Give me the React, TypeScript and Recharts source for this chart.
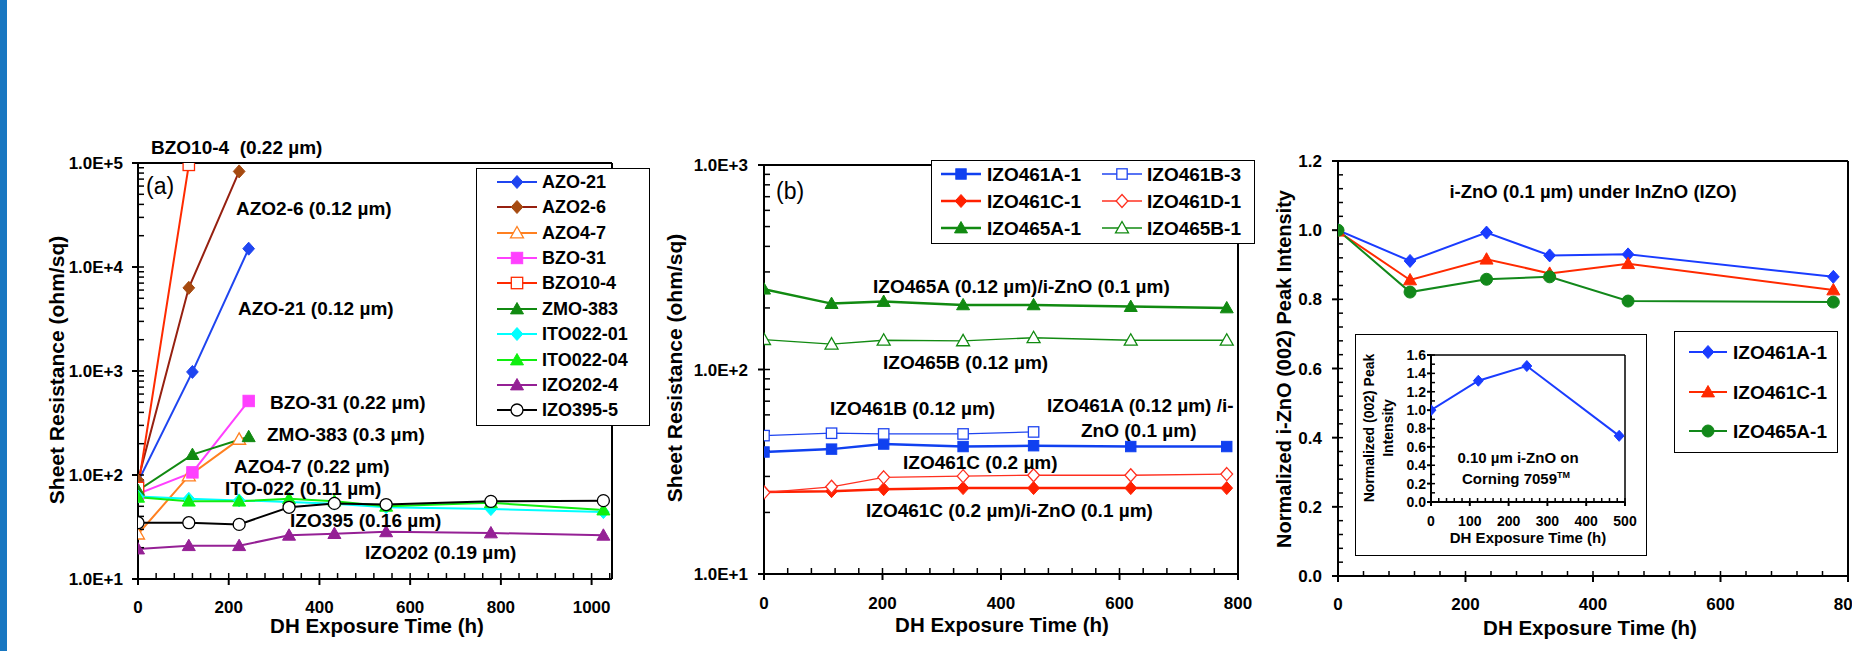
import React from "react";
import { LineChart, Line, XAxis, YAxis } from "recharts";

const FONT = "'Liberation Sans', Arial, Helvetica, sans-serif";
const NARROW = "'Liberation Sans Narrow', 'Arial Narrow', 'Liberation Sans', sans-serif";

// (a) sheet resistance of single TCO films vs damp-heat time
const hoursA1 = [0, 112, 223];
const hoursA2 = [0, 120, 244];
const hoursA = [0, 112, 223, 333, 433, 547, 778, 1026];

const azo21 = [86, 980, 15000];
const azo26 = [89, 6300, 83000];
const azo47 = [27, 98, 220];
const bzo31 = [66, 106, 515];
const bzo104 = [75, 96000, 700000];
const zmo383 = [71, 157, 233];
const ito02201 = [62, 59, 57, 55, 53, 49, 47, 44];
const ito02204 = [61, 56, 56, 59, 56, 50, 54, 46];
const izo2024 = [19.4, 20.9, 20.9, 26.3, 27.3, 28.4, 27.7, 26.3];
const izo3955 = [34.8, 34.8, 33.5, 48.9, 53.3, 52, 55.8, 56.7];

// (b) IZO with / without i-ZnO
const hoursB = [0, 114, 202, 336, 455, 619, 781];
const izo461a1 = [39.5, 40.8, 43.2, 42, 42.4, 42, 42];
const izo461b3 = [47.5, 48.8, 48.4, 48.4, 49.5];
const izo461c1 = [25.2, 25.4, 26.0, 26.3, 26.3, 26.3, 26.3];
const izo461d1 = [25, 26.7, 29.7, 30.1, 30.4, 30.4, 30.8];
const izo465a1 = [247, 210, 215, 207, 207, 203, 200];
const izo465b1 = [140, 133, 139, 138, 143, 139, 139];

// (c) normalized i-ZnO (002) peak intensity
const hoursC = [0, 113, 233, 332, 455, 777];
const peakA1 = [1.0, 0.911, 0.993, 0.927, 0.93, 0.865];
const peakC1 = [0.997, 0.856, 0.916, 0.875, 0.903, 0.827];
const peak465 = [1.0, 0.821, 0.858, 0.865, 0.795, 0.792];

// inset: i-ZnO on glass
const hoursInset = [0, 122, 247, 485];
const peakGlass = [1.0, 1.32, 1.48, 0.72];

const ticksAX = [0, 200, 400, 600, 800, 1000];
const ticksBX = [0, 200, 400, 600, 800];
const ticksLogA = [10, 100, 1000, 10000, 100000];
const ticksLogB = [10, 100, 1000];
const ticksC = [0, 0.2, 0.4, 0.6, 0.8, 1.0, 1.2];
const ticksInsetX = [0, 100, 200, 300, 400, 500];
const ticksInsetY = [0, 0.2, 0.4, 0.6, 0.8, 1.0, 1.2, 1.4, 1.6];

type Shape = "diamond" | "square" | "triangle" | "circle";
interface Series {
  name: string;
  xs: number[];
  ys: number[];
  color: string;
  line?: string;
  shape: Shape;
  filled: boolean;
  width?: number;
  r?: number;
}

const seriesA: Series[] = [
  { name: "AZO-21", xs: hoursA2, ys: azo21, color: "#1f45f0", shape: "diamond", filled: true },
  { name: "AZO2-6", xs: hoursA1, ys: azo26, color: "#a64a10", line: "#962010", shape: "diamond", filled: true },
  { name: "AZO4-7", xs: hoursA1, ys: azo47, color: "#ff8020", shape: "triangle", filled: false },
  { name: "BZO-31", xs: hoursA2, ys: bzo31, color: "#ff40ff", shape: "square", filled: true },
  { name: "BZO10-4", xs: hoursA1, ys: bzo104, color: "#ff2a00", shape: "square", filled: false },
  { name: "ZMO-383", xs: hoursA2, ys: zmo383, color: "#118a11", shape: "triangle", filled: true },
  { name: "ITO022-01", xs: hoursA, ys: ito02201, color: "#00ffff", shape: "diamond", filled: true },
  { name: "ITO022-04", xs: hoursA, ys: ito02204, color: "#10ee10", shape: "triangle", filled: true },
  { name: "IZO202-4", xs: hoursA, ys: izo2024, color: "#952095", shape: "triangle", filled: true },
  { name: "IZO395-5", xs: hoursA, ys: izo3955, color: "#000000", shape: "circle", filled: false },
];

const seriesB: Series[] = [
  { name: "IZO461A-1", xs: hoursB, ys: izo461a1, color: "#1040f0", shape: "square", filled: true, width: 2.5, r: 6 },
  { name: "IZO461B-3", xs: hoursB, ys: izo461b3, color: "#1f45f0", shape: "square", filled: false, width: 1.3, r: 6 },
  { name: "IZO461C-1", xs: hoursB, ys: izo461c1, color: "#ff2000", shape: "diamond", filled: true, width: 2.5 },
  { name: "IZO461D-1", xs: hoursB, ys: izo461d1, color: "#ff3020", shape: "diamond", filled: false, width: 1.3 },
  { name: "IZO465A-1", xs: hoursB, ys: izo465a1, color: "#118a11", shape: "triangle", filled: true, width: 2.5 },
  { name: "IZO465B-1", xs: hoursB, ys: izo465b1, color: "#118a11", shape: "triangle", filled: false, width: 1.3 },
];

const seriesC: Series[] = [
  { name: "IZO461A-1", xs: hoursC, ys: peakA1, color: "#1a3cff", shape: "diamond", filled: true },
  { name: "IZO461C-1", xs: hoursC, ys: peakC1, color: "#ff2a00", shape: "triangle", filled: true },
  { name: "IZO465A-1", xs: hoursC, ys: peak465, color: "#12881a", shape: "circle", filled: true },
];

const seriesInset: Series = { name: "glass", xs: hoursInset, ys: peakGlass, color: "#1a3cff", shape: "diamond", filled: true, r: 5.5 };

const pts = (xs: number[], ys: number[]) => ys.map((y, i) => ({ x: xs[i], y }));
const steps = (hi: number, step: number) =>
  Array.from({ length: Math.round(hi / step) + 1 }, (_, i) => +(i * step).toFixed(3));
const logTicks = (lo: number, hi: number) => {
  const out: number[] = [];
  for (let d = lo; d < hi; d *= 10) for (let k = 1; k <= 9; k++) out.push(d * k);
  out.push(hi);
  return out;
};
const sci = (v: number) => v.toExponential(1).toUpperCase();
const NoLabel = () => <g />;

function Marker({ shape, cx, cy, r = 6.5, color, filled }: { shape: Shape; cx: number; cy: number; r?: number; color: string; filled: boolean }) {
  const fill = filled ? color : "#fff";
  const sw = filled ? 1 : 1.3;
  if (shape === "circle") return <circle cx={cx} cy={cy} r={r - 0.5} fill={fill} stroke={color} strokeWidth={sw} />;
  if (shape === "square")
    return <rect x={cx - r + 0.8} y={cy - r + 0.8} width={2 * r - 1.6} height={2 * r - 1.6} fill={fill} stroke={color} strokeWidth={sw} />;
  if (shape === "diamond")
    return <path d={`M${cx},${cy - r}L${cx + r * 0.9},${cy}L${cx},${cy + r}L${cx - r * 0.9},${cy}Z`} fill={fill} stroke={color} strokeWidth={sw} />;
  return <path d={`M${cx},${cy - r}L${cx + r},${cy + r * 0.75}L${cx - r},${cy + r * 0.75}Z`} fill={fill} stroke={color} strokeWidth={sw} />;
}

function renderLine(s: Series, i: number) {
  return (
    <Line
      key={s.name + i}
      data={pts(s.xs, s.ys)}
      dataKey="y"
      name={s.name}
      stroke={s.line ?? s.color}
      strokeWidth={s.width ?? 2}
      isAnimationActive={false}
      activeDot={false}
      dot={(p: any) => (
        <Marker key={`${s.name}-${p.index}`} shape={s.shape} cx={p.cx} cy={p.cy} r={s.r} color={s.color} filled={s.filled} />
      )}
    />
  );
}

const tickStyle = (size: number, family = FONT) => ({ fill: "#000", fontSize: size, fontWeight: 700, fontFamily: family });

function Txt({ x, y, size, children, center, rotate, weight = 700, family = FONT }: any) {
  const tf = `translate(${center || rotate ? "-50%" : "0"}, -50%)${rotate ? " rotate(-90deg)" : ""}`;
  return (
    <div
      style={{
        position: "absolute",
        left: x,
        top: y,
        transform: tf,
        fontSize: size,
        fontWeight: weight,
        fontFamily: family,
        whiteSpace: "pre",
        lineHeight: 1,
        color: "#000",
      }}
    >
      {children}
    </div>
  );
}

function LegendItem({ s, mx, y, half, tx, size }: { s: Series; mx: number; y: number; half: number; tx: number; size: number }) {
  return (
    <>
      <svg style={{ position: "absolute", left: mx - half - 2, top: y - 10 }} width={2 * half + 4} height={20}>
        <line x1={2} x2={2 * half + 2} y1={10} y2={10} stroke={s.line ?? s.color} strokeWidth={s.width ?? 2} />
        <Marker shape={s.shape} cx={half + 2} cy={10} r={s.r} color={s.color} filled={s.filled} />
      </svg>
      <Txt x={tx} y={y} size={size}>
        {s.name}
      </Txt>
    </>
  );
}

const box = (left: number, top: number, width: number, height: number, bw = 1): React.CSSProperties => ({
  position: "absolute",
  left,
  top,
  width,
  height,
  border: `${bw}px solid #000`,
  boxSizing: "border-box",
  background: "#fff",
});

// the four helper axes: minor ticks on x and y (drawn inward), and the top/right frame lines
function FrameAxes({ xdom, ydom, xminor, yminor, logY, minorSize, frameWidth }: any) {
  return [
    <XAxis key="xm" xAxisId="minor" type="number" dataKey="x" domain={xdom} ticks={xminor} interval={0} allowDataOverflow
      mirror height={1} tick={NoLabel} axisLine={false} tickSize={minorSize} stroke="#000" strokeWidth={1.5} />,
    <XAxis key="xt" xAxisId="top" orientation="top" type="number" dataKey="x" domain={xdom} allowDataOverflow
      mirror height={1} tick={NoLabel} tickLine={false} stroke="#000" strokeWidth={frameWidth} />,
    <YAxis key="ym" yAxisId="minor" type="number" scale={logY ? "log" : "auto"} domain={ydom} ticks={yminor} interval={0} allowDataOverflow
      mirror width={1} tick={NoLabel} axisLine={false} tickSize={minorSize} stroke="#000" strokeWidth={1.5} />,
    <YAxis key="yr" yAxisId="right" orientation="right" type="number" domain={[0, 1]} allowDataOverflow
      mirror width={1} tick={NoLabel} tickLine={false} stroke="#000" strokeWidth={frameWidth} />,
  ];
}

function PanelA() {
  const dom: [number, number] = [0, 1045];
  const ydom: [number, number] = [10, 100000];
  return (
    <div style={{ position: "absolute", left: 60, top: 140 }}>
      <LineChart width={580} height={500} margin={{ top: 23, right: 28, bottom: 1, left: 8 }}>
        <XAxis type="number" dataKey="x" domain={dom} ticks={ticksAX} interval={0} allowDataOverflow height={60}
          tick={tickStyle(17)} tickSize={6} tickMargin={16} stroke="#000" strokeWidth={2} />
        <YAxis type="number" scale="log" domain={ydom} ticks={ticksLogA} interval={0} allowDataOverflow width={70}
          tickFormatter={sci} tick={tickStyle(17)} tickSize={6} tickMargin={9} stroke="#000" strokeWidth={2} />
        {FrameAxes({ xdom: dom, ydom, xminor: steps(1040, 40), yminor: logTicks(10, 100000), logY: true, minorSize: 6, frameWidth: 2 })}
        {seriesA.map(renderLine)}
      </LineChart>
    </div>
  );
}

function PanelB() {
  const dom: [number, number] = [0, 800];
  const ydom: [number, number] = [10, 1000];
  return (
    <div style={{ position: "absolute", left: 680, top: 140 }}>
      <LineChart width={580} height={500} margin={{ top: 25, right: 22, bottom: 6, left: 14 }}>
        <XAxis type="number" dataKey="x" domain={dom} ticks={ticksBX} interval={0} allowDataOverflow height={60}
          tick={tickStyle(17)} tickSize={6} tickMargin={17} stroke="#000" strokeWidth={2} />
        <YAxis type="number" scale="log" domain={ydom} ticks={ticksLogB} interval={0} allowDataOverflow width={70}
          tickFormatter={sci} tick={tickStyle(17)} tickSize={6} tickMargin={10} stroke="#000" strokeWidth={2} />
        {FrameAxes({ xdom: dom, ydom, xminor: steps(800, 40), yminor: logTicks(10, 1000), logY: true, minorSize: 6, frameWidth: 2 })}
        {seriesB.map(renderLine)}
      </LineChart>
    </div>
  );
}

function PanelC() {
  const dom: [number, number] = [0, 800];
  const ydom: [number, number] = [0, 1.2];
  return (
    <div style={{ position: "absolute", left: 1270, top: 140 }}>
      <LineChart width={582} height={500} margin={{ top: 21, right: 4, bottom: 4, left: 8 }}>
        <XAxis type="number" dataKey="x" domain={dom} ticks={ticksBX} interval={0} allowDataOverflow height={60}
          tick={tickStyle(17)} tickSize={6} tickMargin={16} stroke="#000" strokeWidth={2} />
        <YAxis type="number" domain={ydom} ticks={ticksC} interval={0} allowDataOverflow width={60}
          tickFormatter={(v: number) => v.toFixed(1)} tick={tickStyle(17)} tickSize={6} tickMargin={10} stroke="#000" strokeWidth={2} />
        {FrameAxes({ xdom: dom, ydom, xminor: steps(800, 40), yminor: steps(1.2, 0.04), logY: false, minorSize: 5, frameWidth: 2 })}
        {seriesC.map(renderLine)}
      </LineChart>
    </div>
  );
}

function Inset() {
  const dom: [number, number] = [0, 500];
  const ydom: [number, number] = [0, 1.6];
  return (
    <>
      <div style={box(1355, 334, 292, 222, 1.5)} />
      <div style={{ position: "absolute", left: 1356, top: 335 }}>
        <LineChart width={290} height={219} margin={{ top: 20, right: 21, bottom: 28, left: 30 }}>
          <XAxis type="number" dataKey="x" domain={dom} ticks={ticksInsetX} interval={0} allowDataOverflow height={24}
            tick={tickStyle(14, NARROW)} tickSize={4} tickMargin={10} stroke="#000" strokeWidth={2} />
          <YAxis type="number" domain={ydom} ticks={ticksInsetY} interval={0} allowDataOverflow width={45}
            tickFormatter={(v: number) => v.toFixed(1)} tick={tickStyle(14, NARROW)} tickSize={4} tickMargin={1} stroke="#000" strokeWidth={2} />
          {FrameAxes({ xdom: dom, ydom, xminor: steps(500, 20), yminor: steps(1.6, 0.1), logY: false, minorSize: 4, frameWidth: 1.5 })}
          {renderLine(seriesInset, 0)}
        </LineChart>
      </div>
      <Txt x={1369} y={428} size={14} rotate family={NARROW}>Normalized (002) Peak</Txt>
      <Txt x={1388} y={428} size={14} rotate family={NARROW}>Intensity</Txt>
      <Txt x={1528} y={537} size={15} center family={NARROW}>DH Exposure Time (h)</Txt>
      <Txt x={1518} y={457} size={15} center family={NARROW}>0.10 µm i-ZnO on</Txt>
      <Txt x={1516} y={478} size={15} center family={NARROW}>
        Corning 7059<span style={{ fontSize: 9, verticalAlign: "6px" }}>TM</span>
      </Txt>
    </>
  );
}

export default function App() {
  const legendRowsA = seriesA.map((s, i) => ({ s, y: 181.7 + i * 25.4 }));
  return (
    <div style={{ position: "absolute", left: 0, top: 0, width: 1852, height: 651, background: "#fff", overflow: "hidden" }}>
      <div style={{ position: "absolute", left: 0, top: 0, width: 7, height: 651, background: "#1877c1" }} />

      <PanelA />
      <PanelB />
      <PanelC />
      <Inset />

      {/* panel (a) text */}
      <Txt x={56} y={370} size={21} rotate>Sheet Resistance (ohm/sq)</Txt>
      <Txt x={377} y={626} size={20.5} center>DH Exposure Time (h)</Txt>
      <Txt x={146} y={186} size={23} weight={400}>(a)</Txt>
      <Txt x={151} y={147} size={19}>{"BZO10-4  (0.22 µm)"}</Txt>
      <Txt x={236} y={208} size={19}>AZO2-6 (0.12 µm)</Txt>
      <Txt x={238} y={308} size={19}>AZO-21 (0.12 µm)</Txt>
      <Txt x={270} y={402} size={19}>BZO-31 (0.22 µm)</Txt>
      <Txt x={267} y={434} size={19}>ZMO-383 (0.3 µm)</Txt>
      <Txt x={234} y={466} size={19}>AZO4-7 (0.22 µm)</Txt>
      <Txt x={225} y={488} size={19}>ITO-022 (0.11 µm)</Txt>
      <Txt x={290} y={520} size={19}>IZO395 (0.16 µm)</Txt>
      <Txt x={365} y={552} size={19}>IZO202 (0.19 µm)</Txt>
      <div style={box(476, 168, 174, 258)} />
      {legendRowsA.map(({ s, y }) => (
        <LegendItem key={s.name} s={s} mx={517} y={y} half={20} tx={542} size={18} />
      ))}

      {/* panel (b) text */}
      <Txt x={674} y={368} size={21} rotate>Sheet Resistance (ohm/sq)</Txt>
      <Txt x={1002} y={625} size={20.5} center>DH Exposure Time (h)</Txt>
      <Txt x={776} y={191} size={23} weight={400}>(b)</Txt>
      <Txt x={873} y={286} size={19}>IZO465A (0.12 µm)/i-ZnO (0.1 µm)</Txt>
      <Txt x={883} y={362} size={19}>IZO465B (0.12 µm)</Txt>
      <Txt x={830} y={408} size={19}>IZO461B (0.12 µm)</Txt>
      <Txt x={1047} y={405} size={19}>IZO461A (0.12 µm) /i-</Txt>
      <Txt x={1081} y={430} size={19}>ZnO (0.1 µm)</Txt>
      <Txt x={903} y={462} size={19}>IZO461C (0.2 µm)</Txt>
      <Txt x={866} y={510} size={19}>IZO461C (0.2 µm)/i-ZnO (0.1 µm)</Txt>
      <div style={box(931, 160, 324, 84, 1.5)} />
      {seriesB.map((s, i) => (
        <LegendItem key={s.name} s={s} mx={i % 2 === 0 ? 961 : 1122} y={174 + Math.floor(i / 2) * 27}
          half={20} tx={i % 2 === 0 ? 987 : 1147} size={19} />
      ))}

      {/* panel (c) text */}
      <Txt x={1284} y={369} size={20} rotate>Normalized i-ZnO (002) Peak Intensity</Txt>
      <Txt x={1590} y={628} size={20.5} center>DH Exposure Time (h)</Txt>
      <Txt x={1593} y={192} size={18.5} center>i-ZnO (0.1 µm) under InZnO (IZO)</Txt>
      <div style={box(1674, 331, 164, 122, 1.5)} />
      {seriesC.map((s, i) => (
        <LegendItem key={s.name} s={s} mx={1708} y={352 + i * 39.5} half={19} tx={1733} size={19} />
      ))}
    </div>
  );
}
